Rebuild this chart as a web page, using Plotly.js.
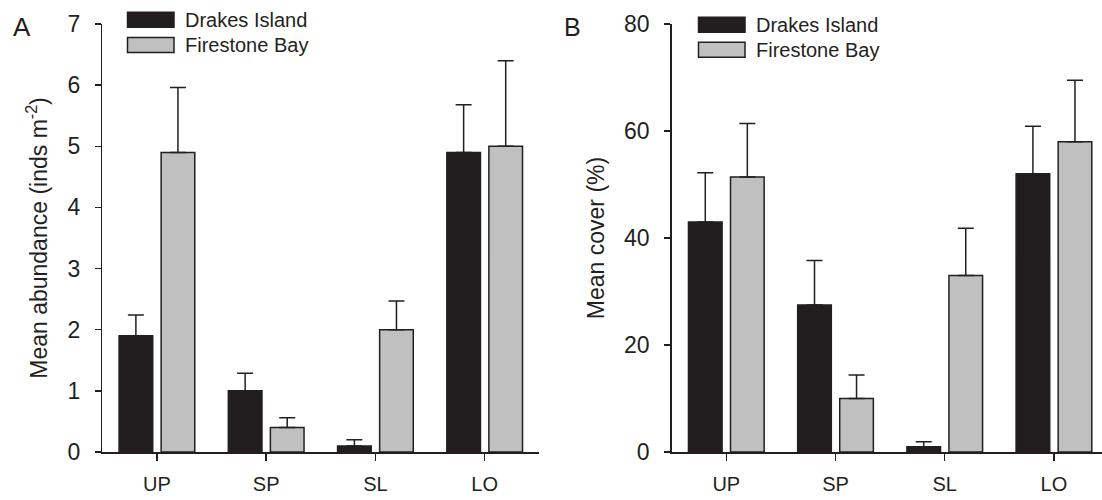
<!DOCTYPE html>
<html>
<head>
<meta charset="utf-8">
<script src="https://cdn.plot.ly/plotly-3.0.1.min.js"></script>
<style>html,body{margin:0;padding:0;background:#fff;}#chart{width:1102px;height:500px;}</style>
</head>
<body>
<div id="chart"></div>
<script>
// ---- data ----
const zones = ['UP', 'SP', 'SL', 'LO'];
const seriesNames = ['Drakes Island', 'Firestone Bay'];

// Panel A: mean abundance (inds m-2) and upper error
const abundDrakes = [1.9, 1.0, 0.1, 4.9];
const abundDrakesErr = [0.34, 0.29, 0.1, 0.78];
const abundFirestone = [4.9, 0.4, 2.0, 5.0];
const abundFirestoneErr = [1.06, 0.16, 0.47, 1.4];

// Panel B: mean cover (%) and upper error
const coverDrakes = [43, 27.5, 1, 52];
const coverDrakesErr = [9.2, 8.3, 0.9, 8.9];
const coverFirestone = [51.4, 10, 33, 58];
const coverFirestoneErr = [10, 4.4, 8.8, 11.5];

// ---- styling ----
const W = 1102, H = 500, T = 24, B = 48;
const ink = '#231f20';
const dark = '#221e20';
const grey = '#c0c0c0';
const FONT = 'Liberation Sans, Arial, sans-serif';
const px = x => x / W;                     // pixel x -> paper x
const py = y => (H - B - y) / (H - T - B); // pixel y -> paper y

function zeros(a) { return a.map(() => 0); }
function barTrace(name, y, err, color, xa, ya) {
  return {
    type: 'bar', name: name, x: zones, y: y, xaxis: xa, yaxis: ya,
    marker: {color: color, line: {color: ink, width: 1.5}},
    error_y: {type: 'data', symmetric: false, array: err, arrayminus: zeros(err),
              color: ink, thickness: 1.5, width: 8},
    showlegend: false, hoverinfo: 'x+y'
  };
}

const data = [
  barTrace(seriesNames[0], abundDrakes, abundDrakesErr, dark, 'x', 'y'),
  barTrace(seriesNames[1], abundFirestone, abundFirestoneErr, grey, 'x', 'y'),
  barTrace(seriesNames[0], coverDrakes, coverDrakesErr, dark, 'x2', 'y2'),
  barTrace(seriesNames[1], coverFirestone, coverFirestoneErr, grey, 'x2', 'y2')
];

const axisCommon = {
  showline: true, linecolor: ink, linewidth: 1.5, mirror: false,
  showgrid: false, zeroline: false, ticks: 'outside', tickcolor: ink, tickwidth: 1.5,
  fixedrange: true
};
const xCommon = Object.assign({}, axisCommon, {
  type: 'category', ticklen: 7, tickfont: {family: FONT, size: 20, color: ink},
  ticklabelstandoff: 6
});
const yCommon = Object.assign({}, axisCommon, {
  ticklen: 6, tickfont: {family: FONT, size: 23, color: ink}, ticklabelstandoff: 10
});

function legendBlock(x0, y0, rowGap, textX) {
  const shapes = [], ann = [];
  const colors = [dark, grey];
  for (let i = 0; i < 2; i++) {
    const top = y0 + i * rowGap;
    shapes.push({type: 'rect', xref: 'paper', yref: 'paper',
      x0: px(x0), x1: px(x0 + 46.5), y0: py(top), y1: py(top + 15),
      fillcolor: colors[i], line: {color: ink, width: 1.5}});
    ann.push({xref: 'paper', yref: 'paper', x: px(textX), y: py(top + 7.5),
      xanchor: 'left', yanchor: 'middle', showarrow: false, text: seriesNames[i],
      font: {family: FONT, size: 20, color: ink}});
  }
  return {shapes, ann};
}
const legA = legendBlock(127.5, 12.3, 25.2, 183);
const legB = legendBlock(698.5, 17.3, 25, 754);

const layout = {
  width: W, height: H,
  margin: {l: 0, r: 0, t: T, b: B, pad: 0},
  paper_bgcolor: '#fff', plot_bgcolor: '#fff',
  barmode: 'group', bargap: 0.23, bargroupgap: 0.2,
  showlegend: false,
  font: {family: FONT, color: ink},
  xaxis: Object.assign({}, xCommon, {domain: [px(102.3), px(539.3)], range: [-0.5, 3.5], anchor: 'y'}),
  yaxis: Object.assign({}, yCommon, {domain: [0, 1], range: [0, 7], dtick: 1, anchor: 'x',
    title: {text: 'Mean abundance (inds m<sup>-2</sup>)', font: {family: FONT, size: 23, color: ink}, standoff: 13}}),
  xaxis2: Object.assign({}, xCommon, {domain: [px(671.7), 1], range: [-0.5, 3.44], anchor: 'y2'}),
  yaxis2: Object.assign({}, yCommon, {domain: [0, 1], range: [0, 80], dtick: 20, anchor: 'x2',
    title: {text: 'Mean cover (%)', font: {family: FONT, size: 23, color: ink}, standoff: 13}}),
  shapes: legA.shapes.concat(legB.shapes),
  annotations: [
    {xref: 'paper', yref: 'paper', x: px(10.5), y: py(27), xanchor: 'left', yanchor: 'middle',
     showarrow: false, text: 'A', font: {family: FONT, size: 26, color: ink}},
    {xref: 'paper', yref: 'paper', x: px(562), y: py(26.5), xanchor: 'left', yanchor: 'middle',
     showarrow: false, text: 'B', font: {family: FONT, size: 25, color: ink}}
  ].concat(legA.ann, legB.ann)
};

Plotly.newPlot('chart', data, layout, {displayModeBar: false, staticPlot: true});
</script>
</body>
</html>
